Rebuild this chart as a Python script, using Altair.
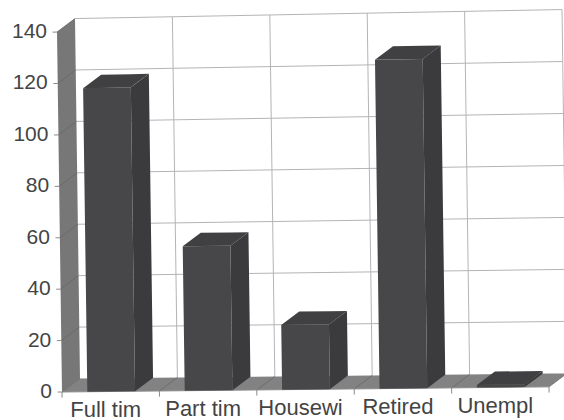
import altair as alt
import pandas as pd

# Survey results: respondents by employment status
categories = ["Full tim", "Part tim", "Housewi", "Retired", "Unempl"]
values = [118, 56, 25, 127, 1]
y_ticks = [0, 20, 40, 60, 80, 100, 120, 140]

# Oblique view of the box, expressed in chart units
PX_PER_CAT = 97.4
PX_PER_VAL = 2.571
Y_MAX = 140
BAR_LEFT, BAR_RIGHT = 0.26, 0.75


def project(u, v, d):
    """Slot position u, value v, depth d (0 front, 1 back) to plot units."""
    px = PX_PER_CAT * u + 18 * d - 5 * v / Y_MAX
    rise = (1.03 + 0.0055 * v) * u + 13.5 * d
    return px / PX_PER_CAT, v + rise / PX_PER_VAL


def face(name, shade, corners):
    """Turn a convex quad into area rows: one upper and lower bound per x stop."""
    pts = [project(*c) for c in corners]
    rows = []
    for x in sorted({p[0] for p in pts}):
        ys = []
        for (x0, y0), (x1, y1) in zip(pts, pts[1:] + pts[:1]):
            if min(x0, x1) <= x <= max(x0, x1):
                if x0 == x1:
                    ys += [y0, y1]
                else:
                    ys.append(y0 + (y1 - y0) * (x - x0) / (x1 - x0))
        rows.append({"face": name, "shade": shade, "x": x, "y": max(ys), "y2": min(ys)})
    return rows


def segment(kind, a, b):
    (x, y), (x2, y2) = project(*a), project(*b)
    return {"kind": kind, "x": x, "y": y, "x2": x2, "y2": y2}


n = len(categories)

# Left wall and floor of the box
box_rows = face("wall", "#777777", [(0, 0, 0), (0, Y_MAX, 0), (0, Y_MAX, 1), (0, 0, 1)])
box_rows += face("floor", "#828282", [(0, 0, 0), (n, 0, 0), (n, 0, 1), (0, 0, 1)])

# Three visible faces of every bar
bar_rows = []
for i, val in enumerate(values):
    l, r = i + BAR_LEFT, i + BAR_RIGHT
    bar_rows += face(f"side{i}", "#3b3b3d", [(r, 0, 0), (r, val, 0), (r, val, 1), (r, 0, 1)])
    bar_rows += face(f"top{i}", "#404042", [(l, val, 0), (r, val, 0), (r, val, 1), (l, val, 1)])
    bar_rows += face(f"front{i}", "#474749", [(l, 0, 0), (r, 0, 0), (r, val, 0), (l, val, 0)])

# Grid on the back wall, and the ticks that run over the wall and floor
grid_rows, tick_rows = [], []
for t in y_ticks[1:]:
    grid_rows.append(segment("grid", (0, t, 1), (n, t, 1)))
for t in y_ticks:
    tick_rows.append(segment("depth", (0, t, 0), (0, t, 1)))
    tick_rows.append(segment("tick", (-0.045, t, 0), (0, t, 0)))
for i in range(1, n + 1):
    grid_rows.append(segment("grid", (i, 0, 1), (i, Y_MAX, 1)))
for i in range(1, n + 1):
    tick_rows.append(segment("depth", (i, 0, 0), (i, 0, 1)))
for i in range(n + 1):
    tick_rows.append(segment("tick", (i, 0, 0), (i, -2.2, 0)))
tick_rows.append(segment("tick", (0, 0, 0), (n, 0, 0)))

y_label_rows = []
for t in y_ticks:
    x, y = project(0, t, 0)
    y_label_rows.append({"x": x, "y": y, "label": str(t)})
x_label_rows = []
for i, c in enumerate(categories):
    x, y = project(i + 0.5, 0, 0)
    x_label_rows.append({"x": x, "y": y, "label": c})

x_scale = alt.Scale(domain=[-62 / PX_PER_CAT, (564 - 62) / PX_PER_CAT], nice=False, zero=False)
y_scale = alt.Scale(domain=[-28 / PX_PER_VAL, 392 / PX_PER_VAL], nice=False, zero=False)
X = alt.X("x:Q", scale=x_scale, axis=None)
Y = alt.Y("y:Q", scale=y_scale, axis=None, stack=None)


def faces(rows):
    return (
        alt.Chart(pd.DataFrame(rows))
        .mark_area(interpolate="linear")
        .encode(X, Y, y2="y2:Q", detail="face:N", color=alt.Color("shade:N", scale=None))
    )


def rules(rows, color, width, opacity=1.0):
    return (
        alt.Chart(pd.DataFrame(rows))
        .mark_rule(color=color, strokeWidth=width, opacity=opacity)
        .encode(X, Y, x2="x2:Q", y2="y2:Q")
    )


grid = rules(grid_rows, "#b4b4b4", 1)
box = faces(box_rows)
ticks_depth = rules([r for r in tick_rows if r["kind"] == "depth"], "#666666", 1, 0.8)
ticks = rules([r for r in tick_rows if r["kind"] == "tick"], "#8a8a8a", 1)
bars = faces(bar_rows)

y_labels = (
    alt.Chart(pd.DataFrame(y_label_rows))
    .mark_text(font="Liberation Sans", fontSize=21, align="right", baseline="middle", dx=-10, color="#444444")
    .encode(X, Y, text="label:N")
)
x_labels = (
    alt.Chart(pd.DataFrame(x_label_rows))
    .mark_text(font="Liberation Sans", fontSize=22, align="center", baseline="middle", dx=-5, dy=19, color="#444444")
    .encode(X, Y, text="label:N")
)

chart = (
    alt.layer(grid, box, ticks_depth, ticks, bars, y_labels, x_labels)
    .properties(width=564, height=420, padding=0, autosize=alt.AutoSizeParams(type="none"), background="#ffffff")
    .configure_view(stroke=None)
)

chart.save("out.html", embed_options={"renderer": "svg", "actions": False})
